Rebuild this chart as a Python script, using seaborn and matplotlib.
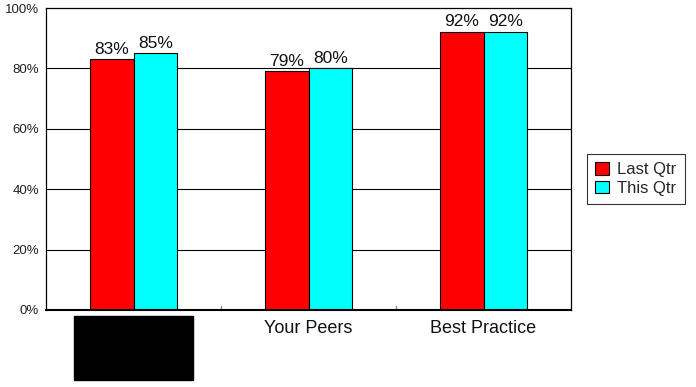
import matplotlib
matplotlib.use("Agg")
import matplotlib.pyplot as plt
import seaborn as sns
import pandas as pd

categories = ["Your Company\nName\nHere", "Your Peers", "Best Practice"]
series = ["Last Qtr", "This Qtr"]
last_qtr = [83, 79, 92]
this_qtr = [85, 80, 92]
yticks = [0, 20, 40, 60, 80, 100]

df = pd.DataFrame({
    "cat": categories * 2,
    "series": [series[0]] * 3 + [series[1]] * 3,
    "val": last_qtr + this_qtr,
})

sns.set_style("white")
plt.rcParams["font.family"] = ["Liberation Sans", "DejaVu Sans"]

fig = plt.figure(figsize=(6.96, 3.87), dpi=100)
ax = fig.add_axes([46/696, 1-310/387, (571-46)/696, (310-8)/387])

sns.barplot(data=df, x="cat", y="val", hue="series", order=categories,
            hue_order=series, palette=["#ff0000", "#00ffff"], width=0.5,
            edgecolor="black", linewidth=0.8, ax=ax, saturation=1)

for cont in ax.containers:
    ax.bar_label(cont, labels=[f"{v:.0f}%" for v in cont.datavalues],
                 padding=2, fontsize=12.5, color="#111111")

ax.set_ylim(0, 100)
ax.set_xlim(-0.5, 2.5)
ax.set_yticks(yticks)
ax.set_yticklabels([f"{t}%" for t in yticks], fontsize=9.5, color="#222222")
for t in yticks[1:-1]:
    ax.axhline(t, color="black", linewidth=0.8, zorder=0)
ax.set_xlabel("")
ax.set_ylabel("")
ax.tick_params(axis="y", length=0, pad=5)
ax.tick_params(axis="x", length=0, pad=7)
labels = ax.set_xticklabels(categories, fontsize=13, color="#111111")
labels[0].set_color("black")
labels[0].set_fontsize(12)
labels[0].set_linespacing(1.45)
labels[0].set_bbox(dict(facecolor="black", edgecolor="black", pad=3))
for x in [0.5, 1.5]:
    ax.plot([x, x], [0, 1.2], color="#888888", linewidth=1, clip_on=False, zorder=0)
for s in ax.spines.values():
    s.set_color("black")
    s.set_linewidth(0.9)
ax.spines["bottom"].set_linewidth(1.5)

leg = ax.legend(loc="center left", bbox_to_anchor=(587/696, 1-179/387),
                bbox_transform=fig.transFigure, frameon=True, fancybox=False,
                fontsize=12, handlelength=0.8, handleheight=0.8,
                handletextpad=0.5, borderpad=0.5, labelspacing=0.2,
                borderaxespad=0)
leg.get_frame().set_edgecolor("black")
leg.get_frame().set_linewidth(0.8)

fig.savefig("out.png", dpi=100)
